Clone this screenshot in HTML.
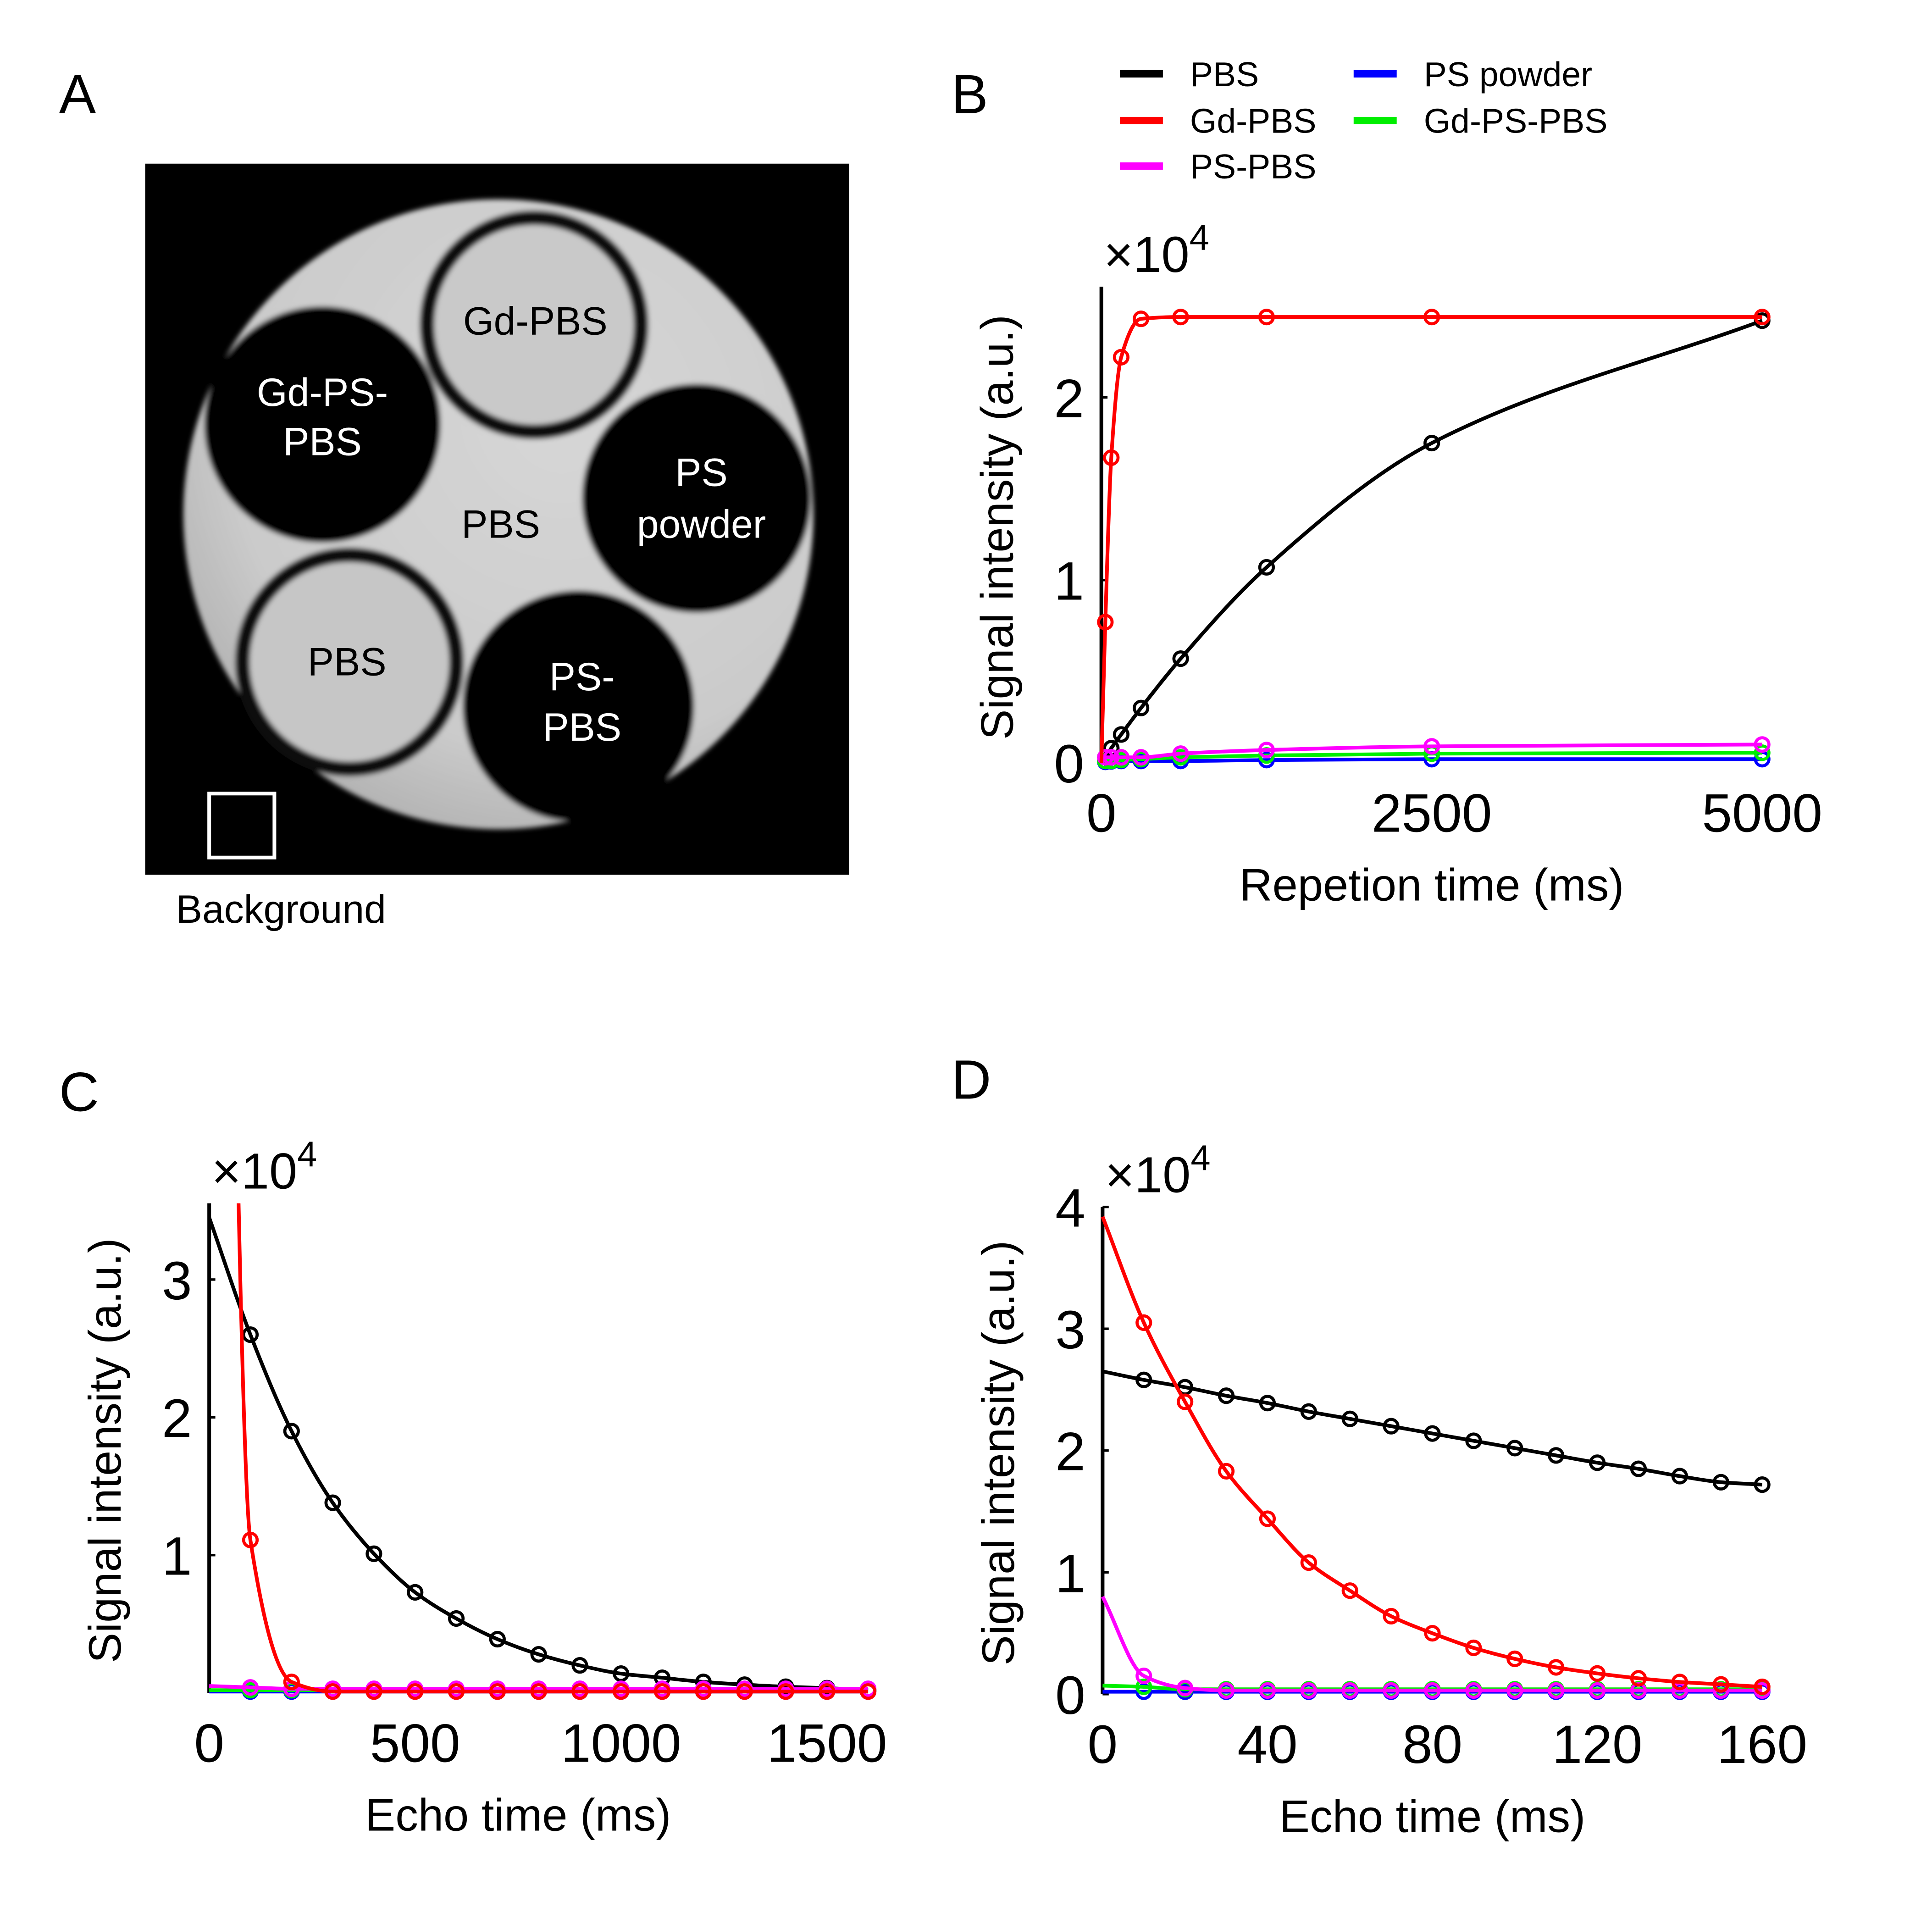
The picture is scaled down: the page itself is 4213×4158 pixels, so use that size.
<!DOCTYPE html>
<html><head><meta charset="utf-8">
<style>html,body{margin:0;padding:0;background:#fff;}svg{display:block;}
text{font-family:"Liberation Sans",Arial,sans-serif;}</style></head>
<body>
<svg id="fig" xmlns="http://www.w3.org/2000/svg" width="4213" height="4158" viewBox="0 0 1570 1550" preserveAspectRatio="none">
<defs>
<radialGradient id="phg" cx="0.6" cy="0.35" r="0.75"><stop offset="0" stop-color="#d6d6d6"/><stop offset="0.7" stop-color="#cbcbcb"/><stop offset="1" stop-color="#a9a9a9"/></radialGradient>
<filter id="blur"><feGaussianBlur stdDeviation="2"/></filter>
<clipPath id="clipC"><rect x="150" y="978" width="580" height="420"/></clipPath>
</defs>
<rect width="1570" height="1550" fill="#fff"/>
<g>
<text x="48" y="92" font-size="45">A</text>
<rect x="118" y="133" width="572" height="578" fill="#000"/>
<g filter="url(#blur)">
<circle cx="405" cy="418" r="256" fill="url(#phg)"/>
<circle cx="434" cy="264" r="93" fill="#111"/>
<circle cx="434" cy="264" r="81" fill="#c9c9c9"/>
<circle cx="284" cy="538" r="93" fill="#111"/>
<circle cx="284" cy="538" r="81" fill="#c6c6c6"/>
<circle cx="262" cy="345" r="96" fill="#000"/>
<circle cx="566" cy="405" r="93" fill="#000"/>
<circle cx="470" cy="574" r="94" fill="#000"/>
</g>
<g font-size="32" text-anchor="middle">
<text x="435" y="272" fill="#000">Gd-PBS</text>
<text x="262" y="330" fill="#fff">Gd-PS-</text>
<text x="262" y="370" fill="#fff">PBS</text>
<text x="407" y="437" fill="#000">PBS</text>
<text x="570" y="395" fill="#fff">PS</text>
<text x="570" y="437" fill="#fff">powder</text>
<text x="282" y="549" fill="#000">PBS</text>
<text x="473" y="561" fill="#fff">PS-</text>
<text x="473" y="602" fill="#fff">PBS</text>
</g>
<rect x="170" y="645" width="53" height="52" fill="none" stroke="#fff" stroke-width="3"/>
<text x="143" y="750" font-size="32">Background</text>
</g>
<text x="773" y="92" font-size="45">B</text>
<text x="48" y="903" font-size="45">C</text>
<text x="773" y="893" font-size="45">D</text>
<g id="legend"></g>
<g id="pB"></g>
<g id="pC"></g>
<g id="pD"></g>
</svg>
<script>
const seriesNames = ["PBS","Gd-PBS","PS-PBS","PS powder","Gd-PS-PBS"];
const seriesColors = ["#000000","#ff0000","#ff00ff","#0000ff","#00ee00"];
// Panel B: T1 (repetition time)
const bTR = [0,30,75,150,300,600,1250,2500,5000];
const bPBS = [0,0.03,0.08,0.155,0.30,0.57,1.07,1.75,2.42];
const bGd = [0,0.77,1.67,2.22,2.43,2.44,2.44,2.44,2.44];
const bPS = [0,0.03,0.03,0.03,0.03,0.05,0.07,0.09,0.10];
const bPowder = [0,0.005,0.008,0.01,0.01,0.01,0.015,0.02,0.02];
const bGdPS = [0,0.01,0.01,0.015,0.02,0.03,0.04,0.05,0.055];
const bXTicks = [0,2500,5000];
const bYTicks = [0,1,2];
// Panel C: long echo time
const cTE = [0,100,200,300,400,500,600,700,800,900,1000,1100,1200,1300,1400,1500,1600];
const cPBS = [3.45,2.60,1.90,1.38,1.01,0.73,0.54,0.39,0.28,0.20,0.14,0.11,0.08,0.06,0.045,0.035,0.02];
const cGd = [16.5,1.11,0.08,0.01,0.01,0.01,0.01,0.01,0.01,0.01,0.01,0.01,0.01,0.01,0.01,0.01,0.01];
const cPS = [0.05,0.04,0.03,0.03,0.03,0.03,0.03,0.03,0.03,0.03,0.03,0.03,0.03,0.03,0.03,0.03,0.03];
const cPowder = [0.01,0.01,0.01,0.01,0.01,0.01,0.01,0.01,0.01,0.01,0.01,0.01,0.01,0.01,0.01,0.01,0.01];
const cGdPS = [0.02,0.02,0.02,0.02,0.02,0.02,0.02,0.02,0.02,0.02,0.02,0.02,0.02,0.02,0.02,0.02,0.02];
const cXTicks = [0,500,1000,1500];
const cYTicks = [1,2,3];
// Panel D: short echo time
const dTE = [0,10,20,30,40,50,60,70,80,90,100,110,120,130,140,150,160];
const dPBS = [2.65,2.58,2.52,2.45,2.39,2.32,2.26,2.20,2.14,2.08,2.02,1.96,1.90,1.85,1.79,1.74,1.72];
const dGd = [3.92,3.05,2.40,1.83,1.44,1.08,0.85,0.64,0.50,0.38,0.29,0.22,0.17,0.13,0.10,0.08,0.06];
const dPS = [0.80,0.15,0.05,0.03,0.03,0.03,0.03,0.03,0.03,0.03,0.03,0.03,0.03,0.03,0.03,0.03,0.03];
const dPowder = [0.02,0.02,0.02,0.02,0.02,0.02,0.02,0.02,0.02,0.02,0.02,0.02,0.02,0.02,0.02,0.02,0.02];
const dGdPS = [0.07,0.06,0.04,0.04,0.04,0.04,0.04,0.04,0.04,0.04,0.04,0.04,0.04,0.04,0.04,0.04,0.04];
const dXTicks = [0,40,80,120,160];
const dYTicks = [0,1,2,3,4];

const NS="http://www.w3.org/2000/svg";
function mk(tag,attrs,parent){const e=document.createElementNS(NS,tag);for(const k in attrs)e.setAttribute(k,attrs[k]);parent.appendChild(e);return e;}
function smooth(p){const n=p.length;const dx=[],s=[],m=[];
 for(let i=0;i<n-1;i++){dx[i]=p[i+1][0]-p[i][0];s[i]=(p[i+1][1]-p[i][1])/dx[i];}
 m[0]=s[0];m[n-1]=s[n-2];
 for(let i=1;i<n-1;i++){if(s[i-1]*s[i]<=0)m[i]=0;else{const w1=2*dx[i]+dx[i-1],w2=dx[i]+2*dx[i-1];m[i]=(w1+w2)/(w1/s[i-1]+w2/s[i]);}}
 let d="M"+p[0][0]+","+p[0][1];
 for(let i=0;i<n-1;i++){const h=dx[i]/3;d+=" C"+(p[i][0]+h)+","+(p[i][1]+m[i]*h)+" "+(p[i+1][0]-h)+","+(p[i+1][1]-m[i+1]*h)+" "+p[i+1][0]+","+p[i+1][1];}
 return d;}

const lg=document.getElementById('legend');
const legPos=[[910,60],[910,98],[910,135],[1100,60],[1100,98]];
seriesNames.forEach((n,i)=>{const [x,y]=legPos[i];
 const l=mk('line',{x1:x,y1:y,x2:x+35,y2:y,stroke:seriesColors[i],'stroke-width':6},lg);
 
 
 const t=mk('text',{x:x+57,y:y+10,'font-size':28},lg);t.textContent=n;
 
 });

function chart(g,cfg){
 const X=v=>cfg.x0+(v-cfg.xmin)/(cfg.xmax-cfg.xmin)*(cfg.x1-cfg.x0);
 const Y=v=>cfg.y0-v*cfg.ppu;
 const ax=mk('line',{x1:cfg.x0,y1:cfg.ytop,x2:cfg.x0,y2:cfg.y0,stroke:'#000','stroke-width':3},g);
 
 
 cfg.yt.forEach(v=>{const tk=mk('line',{x1:cfg.x0,y1:Y(v),x2:cfg.x0+5,y2:Y(v),stroke:'#000','stroke-width':2},g);
  
  
  const t=mk('text',{x:cfg.x0-14,y:Y(v)+16,'font-size':44,'text-anchor':'end'},g);t.textContent=v;
  
  });
 cfg.xt.forEach(v=>{const t=mk('text',{x:X(v),y:cfg.y0+56,'font-size':44,'text-anchor':'middle'},g);t.textContent=v;
  
  });
 const xt=mk('text',{x:(cfg.x0+cfg.x1)/2,y:cfg.y0+112,'font-size':37,'text-anchor':'middle'},g);xt.textContent=cfg.xlabel;
 
 
 const yc=(cfg.y0+cfg.ytop)/2+2;
 const yl=mk('text',{x:cfg.x0-72,y:yc,'font-size':37,'text-anchor':'middle',transform:`rotate(-90 ${cfg.x0-72} ${yc})`},g);
 yl.textContent="Signal intensity (a.u.)";
 
 
 const ex=mk('text',{x:cfg.x0+2,y:cfg.ytop-12,'font-size':41},g);
 ex.innerHTML='×10<tspan dy="-18" font-size="29">4</tspan>';
 
 
 const sg=mk('g',cfg.clip?{'clip-path':cfg.clip}:{},g);
 [3,4,0,2,1].forEach(i=>{
  const vals=cfg.series[i];const pts=cfg.xs.map((x,j)=>[X(x),Y(vals[j])]);
  const p=mk('path',{d:smooth(pts),fill:'none',stroke:seriesColors[i],'stroke-width':3},sg);
  
  
  pts.forEach((pt,j)=>{if(j<cfg.skip)return;
   const c=mk('circle',{cx:pt[0],cy:pt[1],r:5.5,fill:'none',stroke:seriesColors[i],'stroke-width':2.5},sg);
   
   });
 });
}
chart(document.getElementById('pB'),{x0:895,x1:1432,xmin:0,xmax:5000,y0:620,ppu:148.5,ytop:233,xs:bTR,
 series:[bPBS,bGd,bPS,bPowder,bGdPS],xt:bXTicks,yt:bYTicks,xlabel:"Repetion time (ms)",skip:1});
chart(document.getElementById('pC'),{x0:170,x1:672,xmin:0,xmax:1500,y0:1376,ppu:112,ytop:978,xs:cTE,
 series:[cPBS,cGd,cPS,cPowder,cGdPS],xt:cXTicks,yt:cYTicks,xlabel:"Echo time (ms)",skip:1,clip:"url(#clipC)"});
chart(document.getElementById('pD'),{x0:896,x1:1432,xmin:0,xmax:160,y0:1377,ppu:99,ytop:981,xs:dTE,
 series:[dPBS,dGd,dPS,dPowder,dGdPS],xt:dXTicks,yt:dYTicks,xlabel:"Echo time (ms)",skip:1});
</script>
</body></html>
